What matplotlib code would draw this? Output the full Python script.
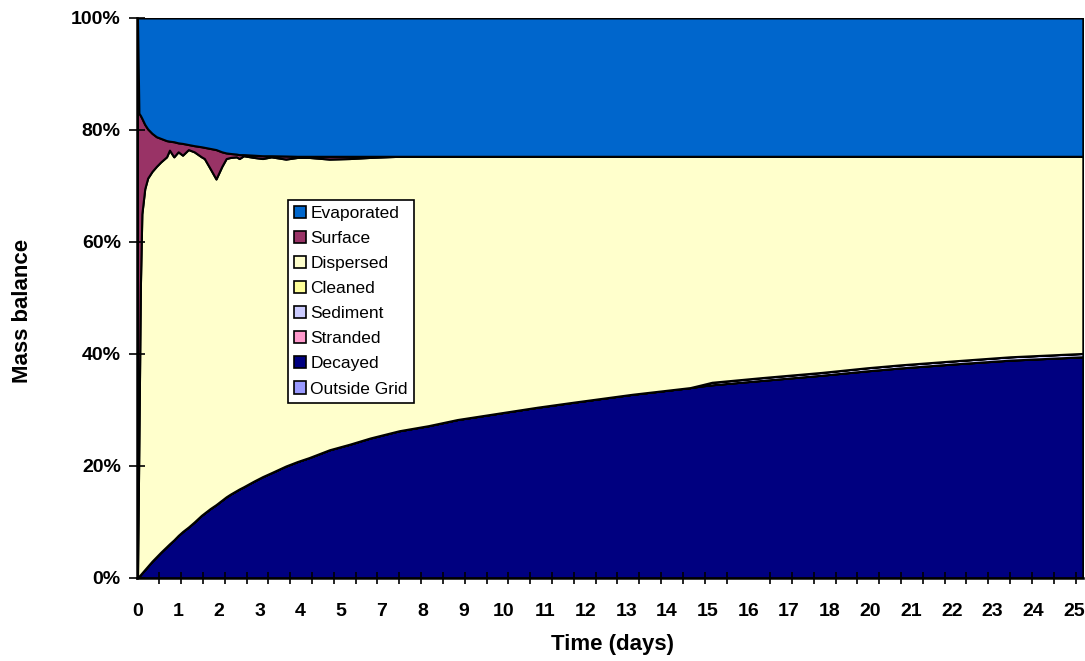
import matplotlib.pyplot as plt
from matplotlib.patches import Patch

plt.rcParams["font.family"] = ["Liberation Sans", "DejaVu Sans"]

# model output step (category index) and mass fractions in percent
step = [0, 1, 2, 3, 5, 7, 10, 13, 16, 20, 22, 25, 28, 31, 35, 39, 44, 46, 50,
        54, 58, 61, 64, 68, 70, 73, 80, 86, 92, 102, 110, 118, 132, 146, 160,
        180, 200, 220, 240, 275, 300, 340, 380, 388, 395, 430, 470, 502, 524,
        560, 600, 650]

evaporated = [0, 17.0, 17.4, 17.9, 19.0, 19.8, 20.6, 21.2, 21.5, 21.9, 22.0,
              22.1, 22.3, 22.4, 22.6, 22.8, 23.0, 23.1, 23.3, 23.5, 23.9, 24.1,
              24.2, 24.3, 24.4, 24.4, 24.5, 24.6, 24.6, 24.65, 24.7, 24.7, 24.7,
              24.7, 24.7, 24.7, 24.7, 24.7, 24.7, 24.7, 24.7, 24.7, 24.7, 24.7,
              24.7, 24.7, 24.7, 24.7, 24.7, 24.7, 24.7, 24.7]

surface = [100, 58.0, 30.6, 17.1, 11.5, 8.8, 6.8, 5.3, 4.2, 2.9, 1.6, 2.7, 1.6,
           2.1, 0.9, 1.1, 1.8, 2.0, 3.6, 5.25, 2.6, 1.0, 0.7, 0.5, 0.7, 0.2,
           0.4, 0.5, 0.2, 0.55, 0.2, 0.2, 0.5, 0.4, 0.2, 0, 0, 0, 0, 0, 0, 0,
           0, 0, 0, 0, 0, 0, 0, 0, 0, 0]

dispersed = [0, 24.7, 51.4, 64.1, 68.0, 69.3, 69.6, 69.7, 69.7, 69.6, 70.3,
             68.4, 68.5, 67.2, 67.4, 66.1, 64.0, 63.3, 60.7, 58.15, 59.6, 60.4,
             60.1, 59.6, 59.0, 59.1, 57.8, 56.8, 56.4, 54.8, 54.3, 53.6, 51.9,
             51.0, 50.1, 49.0, 48.1, 47.0, 46.2, 44.8, 43.9, 42.5, 41.3, 40.8,
             40.35, 39.5, 38.6, 37.75, 37.25, 36.55, 35.8, 35.2]

cleaned = [0] * len(step)

sediment = [0] * 43 + [0.2, 0.45, 0.5, 0.5, 0.55, 0.55, 0.55, 0.6, 0.6]

stranded = [0] * len(step)

decayed = [0, 0.3, 0.6, 0.9, 1.5, 2.1, 3.0, 3.8, 4.6, 5.6, 6.1, 6.8, 7.6, 8.3,
           9.1, 10.0, 11.2, 11.6, 12.4, 13.1, 13.9, 14.5, 15.0, 15.6, 15.9,
           16.3, 17.3, 18.1, 18.8, 20.0, 20.8, 21.5, 22.9, 23.9, 25.0, 26.3,
           27.2, 28.3, 29.1, 30.5, 31.4, 32.8, 34.0, 34.3, 34.5, 35.3, 36.2,
           37.0, 37.5, 38.2, 38.9, 39.5]

outside_grid = [0] * len(step)

day_labels = ["0", "1", "2", "3", "4", "5", "7", "8", "9", "10", "11", "12",
              "13", "14", "15", "16", "17", "18", "20", "21", "22", "23", "24",
              "25"]

names = ["Outside Grid", "Decayed", "Stranded", "Sediment", "Cleaned",
         "Dispersed", "Surface", "Evaporated"]
colors = ["#9999FF", "#000080", "#FF99CC", "#CCCCFF", "#FFFF99", "#FFFFCC",
          "#993366", "#0066CC"]

fig = plt.figure(figsize=(10.85, 6.61), dpi=100)
ax = fig.add_axes([0.1267, 0.1256, 0.8713, 0.8472])

ax.stackplot(step, outside_grid, decayed, stranded, sediment, cleaned,
             dispersed, surface, evaporated, colors=colors,
             edgecolor="black", linewidth=1.5)

ax.set_xlim(0, 650)
ax.set_ylim(0, 100)

# labels every 28 steps, tick marks every 15 steps
ax.set_xticks([28 * i for i in range(len(day_labels))])
ax.set_xticklabels(day_labels, fontsize=14, fontweight="bold")
ax.set_xticks(range(0, 651, 15), minor=True)
ax.tick_params(axis="x", which="major", length=0, pad=18)
ax.tick_params(axis="x", which="minor", direction="inout", length=9,
               width=1.2)

ax.set_yticks(range(0, 101, 20))
ax.set_yticklabels([f"{v}%" for v in range(0, 101, 20)], fontsize=14,
                   fontweight="bold")
ax.tick_params(axis="y", direction="inout", length=12, width=1.2, pad=6)

for side in ("top", "right"):
    ax.spines[side].set_visible(False)
for side in ("left", "bottom"):
    ax.spines[side].set_linewidth(1.8)

ax.set_xlabel("Time (days)", fontsize=16, fontweight="bold")
ax.set_ylabel("Mass balance", fontsize=16, fontweight="bold")
ax.xaxis.set_label_coords(0.502, -0.1)
ax.yaxis.set_label_coords(-0.11, 0.477)

handles = [Patch(facecolor=c, edgecolor="black", linewidth=1.2)
           for c in colors[::-1]]
leg = ax.legend(handles, names[::-1], loc="upper left",
                bbox_to_anchor=(0.159, 0.675), borderaxespad=0,
                fontsize=12.5, handlelength=0.7, handleheight=0.7,
                handletextpad=0.25, labelspacing=0.57, borderpad=0.35,
                fancybox=False, framealpha=1, edgecolor="black")
leg.get_frame().set_linewidth(1.2)

fig.savefig("out.png", dpi=100)
